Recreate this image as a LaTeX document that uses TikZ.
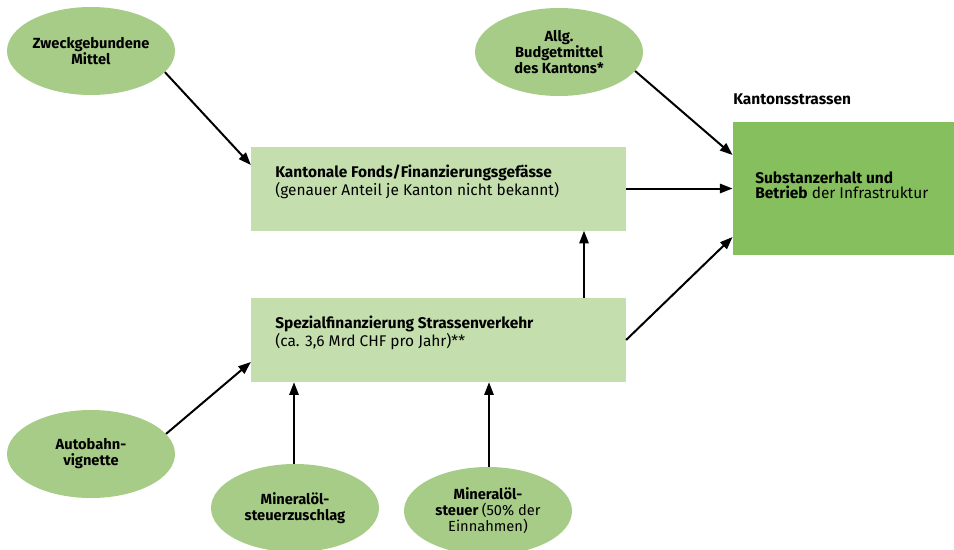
\documentclass[tikz,border=0pt]{standalone}
\usepackage{fontspec}
\setmainfont{Fira Sans}
\usetikzlibrary{shapes.geometric,arrows.meta}
\definecolor{ovalgreen}{HTML}{A6CC88}
\definecolor{paleGreen}{HTML}{C4DEAE}
\definecolor{darkGreen}{HTML}{86BF5E}
\tikzset{
  source/.style={ellipse,fill=ovalgreen,minimum width=126pt,minimum height=66pt,
    inner sep=0pt,align=center,font=\bfseries\fontsize{11}{12}\selectfont},
  fund/.style={fill=paleGreen,minimum width=281pt,minimum height=63pt,inner sep=0pt},
  boxtext/.style={anchor=north west,align=left,inner sep=0pt,font=\fontsize{11.6}{11.4}\selectfont},
  flow/.style={line width=1.5pt,-{Triangle[length=9.5pt,width=7pt]}}
}
\begin{document}
\begin{tikzpicture}[x=0.75pt,y=-0.75pt]
\useasboundingbox (0,0) rectangle (954,550);
% sources
\node[source] (zweck) at (91,51) {Zweckgebundene\\Mittel};
\node[source] (budget) at (559,52) {Allg.\\Budgetmittel\\des Kantons*};
\node[source] (vign) at (91,454) {Autobahn-\\vignette};
\node[source] (zuschlag) at (295,508) {Mineralöl-\\steuerzuschlag};
\node[source] (steuer) at (488,511) {Mineralöl-\\steuer \textmd{(50\% der}\\\textmd{Einnahmen)}};
% funds
\node[fund] (fonds) at (438.5,188.5) {};
\node[boxtext] at (275,165) {\textbf{Kantonale Fonds/Finanzierungsgefässe}\\(genauer Anteil je Kanton nicht bekannt)};
\node[fund] (spezial) at (438.5,340) {};
\node[boxtext] at (275,316) {\textbf{Spezialfinanzierung Strassenverkehr}\\(ca. 3,6 Mrd CHF pro Jahr)**};
% target
\node[fill=darkGreen,minimum width=166pt,minimum height=100pt,inner sep=0pt] (kanton) at (843.5,188.5) {};
\node[anchor=south west,inner sep=0pt,font=\bfseries\fontsize{11.6}{11}\selectfont] (kantlabel) at (733,105) {Kantonsstrassen};
\node[boxtext] at (755,171) {\textbf{Substanzerhalt und}\\\textbf{Betrieb} der Infrastruktur};
% flows
\draw[flow] (zweck.-16) -- (fonds.north west |- 0,165);
\draw[flow] (budget.-14) -- (kanton.north west |- 0,155);
\draw[flow] (fonds.east) -- (kanton.west);
\draw[flow] (spezial.north -| 584,0) -- (fonds.south -| 584,0);
\draw[flow] (spezial.east |- 0,340) -- (kanton.south west |- 0,237);
\draw[flow] (vign.15) -- (spezial.south west |- 0,362);
\draw[flow] (zuschlag.north -| 294,0) -- (spezial.south -| 294,0);
\draw[flow] (steuer.north -| 489,0) -- (spezial.south -| 489,0);
\end{tikzpicture}
\end{document}
